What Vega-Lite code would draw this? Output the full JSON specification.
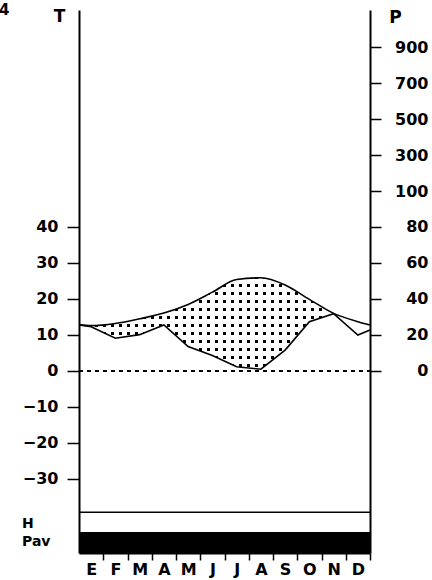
{
  "$schema": "https://vega.github.io/schema/vega-lite/v6.json",
  "width": 291,
  "height": 543,
  "autosize": {"type": "none"},
  "padding": {"left": 79, "top": 10, "right": 62, "bottom": 27},
  "background": "white",
  "config": {
    "view": {"stroke": null},
    "font": "DejaVu Sans",
    "axis": {
      "domainColor": "black",
      "tickColor": "black",
      "labelColor": "black",
      "labelFont": "DejaVu Sans",
      "labelFontWeight": "bold",
      "labelFontSize": 16,
      "grid": false,
      "domainWidth": 2,
      "tickWidth": 1.5,
      "titleFont": "DejaVu Sans",
      "titleFontWeight": "bold",
      "titleColor": "black",
      "titleFontSize": 17,
      "zindex": 1
    }
  },
  "datasets": {
    "clima": [
      {"m": 0, "T": 12.8, "P": 25.6},
      {"m": 0.5, "mes": "E", "T": 12.6, "P": 24.6},
      {"m": 1.5, "mes": "F", "T": 13.2, "P": 18.2},
      {"m": 2.5, "mes": "M", "T": 14.5, "P": 20.2},
      {"m": 3.5, "mes": "A", "T": 16.1, "P": 25.6},
      {"m": 4.5, "mes": "M", "T": 18.5, "P": 13.6},
      {"m": 5.5, "mes": "J", "T": 21.9, "P": 8.6},
      {"m": 6.5, "mes": "J", "T": 25.4, "P": 2.4},
      {"m": 7.5, "mes": "A", "T": 25.9, "P": 1.0},
      {"m": 8.5, "mes": "S", "T": 23.9, "P": 11.6},
      {"m": 9.5, "mes": "O", "T": 19.9, "P": 27.4},
      {"m": 10.5, "mes": "N", "T": 16.0, "P": 31.8},
      {"m": 11.5, "mes": "D", "T": 13.7, "P": 20.0},
      {"m": 12, "T": 12.8, "P": 22.8}
    ]
  },
  "layer": [
    {
      "layer": [
        {
          "data": {"values": [{}]},
          "mark": {"type": "rule", "color": "black", "strokeWidth": 102, "strokeDash": [3, 5], "strokeCap": "butt"},
          "encoding": {
            "x": {"datum": 0, "type": "quantitative", "title": null, "scale": {"domain": [0, 12], "nice": false, "zero": false}},
            "x2": {"datum": 10.6},
            "y": {"datum": 13.889, "type": "quantitative", "scale": {"domain": [-50.56, 100.28], "nice": false, "zero": false}, "axis": null}
          }
        },
        {
          "data": {"values": [{}]},
          "mark": {"type": "rule", "color": "white", "strokeWidth": 288, "strokeDash": [5, 3], "strokeCap": "butt"},
          "encoding": {
            "x": {"datum": 6, "type": "quantitative", "title": null},
            "y": {"datum": -0.2778, "type": "quantitative", "scale": {"domain": [-50.56, 100.28], "nice": false, "zero": false}, "axis": null},
            "y2": {"datum": 28.056}
          }
        },
        {
          "data": {"name": "clima"},
          "mark": {"type": "area", "fill": "white", "interpolate": "monotone"},
          "encoding": {
            "x": {"field": "m", "type": "quantitative", "title": null},
            "y": {"field": "T", "type": "quantitative", "scale": {"domain": [-50.56, 100.28], "nice": false, "zero": false}, "axis": null},
            "y2": {"datum": 29}
          }
        }
      ]
    },
    {
      "data": {"name": "clima"},
      "mark": {"type": "area", "fill": "white", "interpolate": "linear"},
      "encoding": {
        "x": {"field": "m", "type": "quantitative", "title": null},
        "y": {"field": "P", "type": "quantitative", "scale": {"domain": [-101.12, 200.56], "nice": false, "zero": false}, "axis": null},
        "y2": {"datum": -1}
      }
    },
    {
      "layer": [
        {
          "data": {"values": [{}]},
          "mark": {"type": "rule", "color": "black", "strokeWidth": 2, "strokeDash": [4, 4]},
          "encoding": {
            "x": {"datum": 0, "type": "quantitative", "title": null},
            "x2": {"datum": 12},
            "y": {"datum": 0, "type": "quantitative", "title": null, "scale": {"domain": [-50.56, 100.28], "nice": false, "zero": false}}
          }
        },
        {
          "data": {"name": "clima"},
          "mark": {"type": "line", "color": "black", "strokeWidth": 1.6, "interpolate": "monotone"},
          "encoding": {
            "x": {
              "field": "m", "type": "quantitative", "title": null,
              "scale": {"domain": [0, 12], "nice": false, "zero": false},
              "axis": {
                "orient": "bottom",
                "values": [1, 2, 3, 4, 5, 6, 7, 8, 9, 10, 11, 12],
                "tickCount": 24,
                "labelExpr": "['E','F','M','A','M','J','J','A','S','O','N','D'][datum.value - 1]",
                "labelOffset": -12.125,
                "tickSize": 7,
                "labelPadding": 1,
                "labelFontSize": 16,
                "labelOverlap": false,
                "labelFlush": false,
                "zindex": 1
              }
            },
            "y": {
              "field": "T", "type": "quantitative",
              "scale": {"domain": [-50.56, 100.28], "nice": false, "zero": false},
              "axis": {
                "orient": "left",
                "values": [-30, -20, -10, 0, 10, 20, 30, 40],
                "tickCount": 24,
                "tickSize": 12,
                "labelPadding": 9,
                "title": "T",
                "titleAngle": 0,
                "titleAlign": "center",
                "titleBaseline": "top",
                "titleX": -20,
                "titleY": -2,
                "zindex": 1
              }
            }
          }
        },
        {
          "data": {"values": [{}]},
          "mark": {"type": "rule", "color": "black", "strokeWidth": 1.5},
          "encoding": {
            "x": {"datum": 0, "type": "quantitative", "title": null},
            "x2": {"datum": 12},
            "y": {"datum": -39.25, "type": "quantitative", "title": null}
          }
        },
        {
          "data": {"values": [{}]},
          "mark": {"type": "rect", "color": "black"},
          "encoding": {
            "x": {"datum": 0, "type": "quantitative", "title": null},
            "x2": {"datum": 12},
            "y": {"datum": -44.7, "type": "quantitative", "title": null},
            "y2": {"datum": -50.56}
          }
        },
        {
          "data": {"values": [{}]},
          "mark": {"type": "text", "text": "H", "align": "left", "baseline": "middle", "fontSize": 14, "fontWeight": "bold", "color": "black"},
          "encoding": {
            "x": {"datum": -2.35, "type": "quantitative", "title": null},
            "y": {"datum": -42.5, "type": "quantitative", "title": null}
          }
        },
        {
          "data": {"values": [{}]},
          "mark": {"type": "text", "text": "Pav", "align": "left", "baseline": "middle", "fontSize": 14, "fontWeight": "bold", "color": "black"},
          "encoding": {
            "x": {"datum": -2.35, "type": "quantitative", "title": null},
            "y": {"datum": -47.6, "type": "quantitative", "title": null}
          }
        },
        {
          "data": {"values": [{}]},
          "mark": {"type": "text", "text": "4", "align": "left", "baseline": "alphabetic", "fontSize": 15, "fontWeight": "bold", "color": "black"},
          "encoding": {
            "x": {"datum": -3.3, "type": "quantitative", "title": null},
            "y": {"datum": 98.9, "type": "quantitative", "title": null}
          }
        }
      ]
    },
    {
      "data": {"name": "clima"},
      "mark": {"type": "line", "color": "black", "strokeWidth": 1.6, "interpolate": "linear"},
      "encoding": {
        "x": {"field": "m", "type": "quantitative", "title": null},
        "y": {
          "field": "P", "type": "quantitative",
          "scale": {"domain": [-101.12, 200.56], "nice": false, "zero": false},
          "axis": {
            "orient": "right",
            "values": [0, 20, 40, 60, 80, 100, 120, 140, 160, 180],
            "tickCount": 24,
            "labelExpr": "datum.value <= 100 ? datum.value : (datum.value - 100) * 10 + 100",
            "tickSize": 11,
            "labelAlign": "right",
            "labelPadding": 47,
            "title": "P",
            "titleAngle": 0,
            "titleAlign": "center",
            "titleBaseline": "top",
            "titleX": 25,
            "titleY": -1,
            "zindex": 1
          }
        }
      }
    }
  ],
  "resolve": {"scale": {"y": "independent"}}
}
